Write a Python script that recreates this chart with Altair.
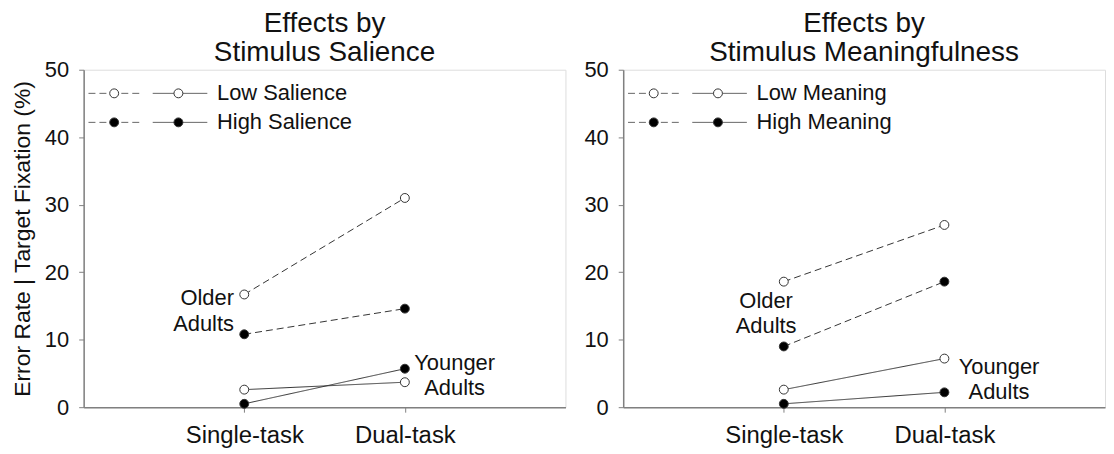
import altair as alt
import pandas as pd

# ---------------- data ----------------
tasks = ["Single-task", "Dual-task"]
task_pos = [1, 2]

sal_older_low = [16.7, 31.0]
sal_older_high = [10.8, 14.6]
sal_young_low = [2.6, 3.7]
sal_young_high = [0.5, 5.7]

mean_older_low = [18.6, 27.0]
mean_older_high = [9.0, 18.6]
mean_young_low = [2.6, 7.2]
mean_young_high = [0.5, 2.2]

sal_legend = ["Low Salience", "High Salience"]
mean_legend = ["Low Meaning", "High Meaning"]

titles_left = ["Effects by", "Stimulus Salience"]
titles_right = ["Effects by", "Stimulus Meaningfulness"]
y_title = "Error Rate | Target Fixation (%)"


def build(ol, oh, yl, yh):
    rows = []
    for age, level, vals in [("Older", "Low", ol), ("Older", "High", oh),
                             ("Younger", "Low", yl), ("Younger", "High", yh)]:
        for p, t, v in zip(task_pos, tasks, vals):
            rows.append({"age": age, "level": level, "series": age + level,
                         "pos": p, "task": t, "value": v})
    return pd.DataFrame(rows)


df_sal = build(sal_older_low, sal_older_high, sal_young_low, sal_young_high)
df_mean = build(mean_older_low, mean_older_high, mean_young_low, mean_young_high)

LINE = "#333333"
FONT = "Liberation Sans"
TXT = "#111111"
label_expr = f"datum.value == 1 ? '{tasks[0]}' : '{tasks[1]}'"


def panel(df, title_lines, legend_labels, show_title, older_anno, younger_anno):
    x = alt.X("pos:Q", scale=alt.Scale(domain=[0, 3]),
              axis=alt.Axis(values=task_pos, labelExpr=label_expr, title=None,
                            grid=False, tickSize=5, labelPadding=11,
                            labelFontSize=24, labelColor=TXT,
                            domainColor="#808080", tickColor="#808080"))
    y = alt.Y("value:Q", scale=alt.Scale(domain=[0, 50]),
              axis=alt.Axis(values=[0, 10, 20, 30, 40, 50], grid=False,
                            title=y_title if show_title else None,
                            titleFontSize=23, titleFontWeight="normal",
                            titleColor=TXT, titlePadding=10,
                            tickSize=5, labelPadding=10, labelFontSize=22,
                            labelColor=TXT, domainColor="#808080",
                            tickColor="#808080"))
    base = alt.Chart(df)
    lines = base.mark_line(color=LINE, strokeWidth=1).encode(
        x=x, y=y, detail="series:N",
        strokeDash=alt.StrokeDash("age:N", scale=alt.Scale(
            domain=["Older", "Younger"], range=[[7, 4], [1, 0]]), legend=None))
    fill_enc = alt.Fill("level:N", scale=alt.Scale(domain=["Low", "High"],
                                                   range=["white", "black"]),
                        legend=None)
    pts = base.mark_circle(size=80, stroke=LINE, strokeWidth=1, opacity=1).encode(
        x="pos:Q", y="value:Q", fill=fill_enc)

    # legend drawn inside the plot
    leg = pd.DataFrame({"label": legend_labels, "level": ["Low", "High"],
                        "y": [46.5, 42.2],
                        "d0": [0.03, 0.03], "d1": [0.37, 0.37], "dm": [0.19, 0.19],
                        "s0": [0.43, 0.43], "s1": [0.77, 0.77], "sm": [0.59, 0.59],
                        "tx": [0.83, 0.83]})
    lb = alt.Chart(leg)
    leg_dash = lb.mark_rule(color="#666", strokeWidth=1, strokeDash=[7, 4]).encode(
        x="d0:Q", x2="d1:Q", y="y:Q")
    leg_solid = lb.mark_rule(color="#666", strokeWidth=1).encode(
        x="s0:Q", x2="s1:Q", y="y:Q")
    leg_p1 = lb.mark_circle(size=80, stroke=LINE, strokeWidth=1, opacity=1).encode(
        x="dm:Q", y="y:Q", fill=fill_enc)
    leg_p2 = lb.mark_circle(size=80, stroke=LINE, strokeWidth=1, opacity=1).encode(
        x="sm:Q", y="y:Q", fill=fill_enc)
    leg_txt = lb.mark_text(align="left", baseline="middle", fontSize=22,
                           color=TXT, font=FONT).encode(
        x="tx:Q", y="y:Q", text="label:N")

    ann = pd.DataFrame({"x": [older_anno[0], younger_anno[0]],
                        "y": [older_anno[1], younger_anno[1]],
                        "t": ["Older\nAdults", "Younger\nAdults"]})
    ann_old = alt.Chart(ann.iloc[[0]]).mark_text(
        align=older_anno[2], baseline="middle", fontSize=22, lineBreak="\n",
        lineHeight=26, color=TXT, font=FONT).encode(x="x:Q", y="y:Q", text="t:N")
    ann_young = alt.Chart(ann.iloc[[1]]).mark_text(
        align="center", baseline="middle", fontSize=22, lineBreak="\n",
        lineHeight=25, color=TXT, font=FONT).encode(x="x:Q", y="y:Q", text="t:N")

    return alt.layer(lines, pts, leg_dash, leg_solid, leg_p1, leg_p2, leg_txt,
                     ann_old, ann_young).properties(
        width=484, height=339,
        title=alt.TitleParams(title_lines, fontSize=28, fontWeight="normal",
                              color=TXT, anchor="middle", frame="group",
                              lineHeight=29, offset=-8, font=FONT))


left = panel(df_sal, titles_left, sal_legend, True,
             (0.936, 16.2, "right"), (2.31, 6.5))
right = panel(df_mean, titles_right, mean_legend, False,
              (0.89, 15.8, "center"), (2.34, 5.9))

chart = alt.hconcat(left, right, spacing=17).configure_view(
    stroke="#808080", strokeWidth=1.5).configure(
    font=FONT, padding={"left": 3, "top": 0, "right": 0, "bottom": 0}).configure_axis(
    labelFont=FONT, titleFont=FONT, domainWidth=1.5)

chart.save("out.html", embed_options={"renderer": "svg", "actions": False})
